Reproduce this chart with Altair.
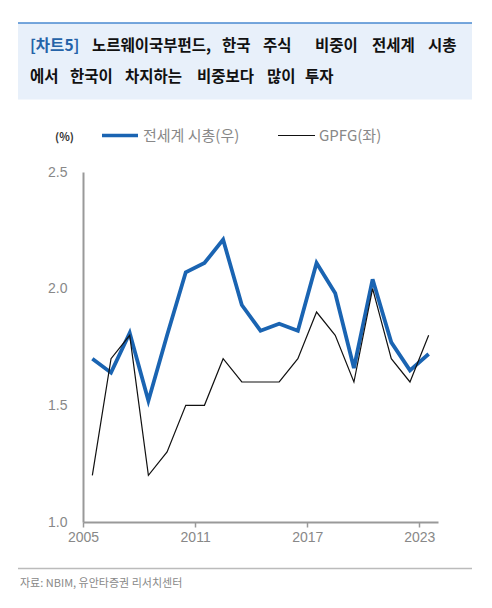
import altair as alt
import pandas as pd

years = list(range(2005, 2024))
world_cap = [1.70, 1.64, 1.81, 1.52, 1.80, 2.07, 2.11, 2.21, 1.93, 1.82, 1.85, 1.82, 2.11, 1.98, 1.66, 2.04, 1.77, 1.65, 1.72]
gpfg = [1.20, 1.70, 1.80, 1.20, 1.30, 1.50, 1.50, 1.70, 1.60, 1.60, 1.60, 1.70, 1.90, 1.80, 1.60, 2.00, 1.70, 1.60, 1.80]
series_names = ["전세계 시총(우)", "GPFG(좌)"]
x_ticks = [2005, 2011, 2017, 2023]
y_ticks = [1.0, 1.5, 2.0, 2.5]

BLUE = "#1a64b2"
KFONT = "Noto Sans CJK KR"

rows = []
for y, a, b in zip(years, world_cap, gpfg):
    rows.append({"pos": y + 0.5, "year": y, "series": series_names[0], "value": a})
    rows.append({"pos": y + 0.5, "year": y, "series": series_names[1], "value": b})
df = pd.DataFrame(rows)

one = alt.Data(values=[{"a": 1}])

def txt(s, x, y, size=15.5, color="#111", weight="bold", font=KFONT, align="left"):
    return alt.Chart(one).mark_text(
        text=s, align=align, baseline="middle", fontSize=size, color=color,
        fontWeight=weight, font=font
    ).encode(x=alt.value(x), y=alt.value(y))

def rule(x1, x2, y, color, w):
    return alt.Chart(one).mark_rule(color=color, strokeWidth=w).encode(
        x=alt.value(x1), x2=alt.value(x2), y=alt.value(y))

# header
header_bg = alt.Chart(one).mark_rect(color="#e8f0fa").encode(
    x=alt.value(-65), x2=alt.value(389), y=alt.value(-149), y2=alt.value(-72.5))
header_line = rule(-65, 389, -149, "#4a8ad0", 1.5)

line1 = [("노르웨이국부펀드,", 92), ("한국", 222), ("주식", 263), ("비중이", 315), ("전세계", 372), ("시총", 428)]
line2 = [("에서", 30), ("한국이", 70), ("차지하는", 125), ("비중보다", 197), ("많이", 267), ("투자", 305)]
title_layers = [txt("[차트5]", 30 - 83, -126.5, color="#2563a8")]
title_layers += [txt(w, x - 83, -126.5) for w, x in line1]
title_layers += [txt(w, x - 83, -95.5) for w, x in line2]

# legend
legend_layers = [
    txt("(%)", -28, -34.5, size=11, color="#333", weight="bold"),
    rule(19, 55, -36.5, BLUE, 3.5),
    txt(series_names[0], 60, -36, size=15, color="#888", weight="normal"),
    rule(195, 232, -36.5, "#111", 1.2),
    txt(series_names[1], 236, -36, size=15, color="#888", weight="normal"),
]

# footer
footer_layers = [
    rule(-65, 389, 396.5, "#bbbbbb", 1.5),
    txt("자료: NBIM, 유안타증권 리서치센터", -63, 412, size=11, color="#888", weight="normal"),
]

lines = alt.Chart(df).mark_line(clip=False).encode(
    x=alt.X("pos:Q", scale=alt.Scale(domain=[2005, 2024], nice=False, zero=False),
            axis=alt.Axis(values=x_ticks, format="d", title=None, grid=False,
                          domainColor="#999", domainWidth=2, tickColor="#999",
                          tickWidth=1.5, tickSize=5, labelColor="#888", labelFontSize=14,
                          labelFont="Liberation Sans", labelPadding=3, labelFlush=False)),
    y=alt.Y("value:Q", scale=alt.Scale(domain=[1.0, 2.5], nice=False, zero=False),
            axis=alt.Axis(values=y_ticks, format=".1f", title=None, grid=False,
                          domainColor="#999", domainWidth=2, ticks=False,
                          labelColor="#888", labelFontSize=14, labelFont="Liberation Sans",
                          labelPadding=16)),
    color=alt.Color("series:N", scale=alt.Scale(domain=series_names, range=[BLUE, "#111"]), legend=None),
    strokeWidth=alt.StrokeWidth("series:N", scale=alt.Scale(domain=series_names, range=[3.8, 1.2]), legend=None),
    order=alt.Order("pos:Q"),
)

chart = alt.layer(
    header_bg, header_line, *title_layers, *legend_layers, *footer_layers, lines
).properties(
    width=355, height=350,
    autosize=alt.AutoSizeParams(type="none"),
    padding={"left": 75, "top": 164, "right": 46, "bottom": 78},
).configure(
    background="white",
    view=alt.ViewConfig(strokeWidth=0, stroke="transparent"),
)

chart.save("out.html", embed_options={"renderer": "svg", "actions": False})
